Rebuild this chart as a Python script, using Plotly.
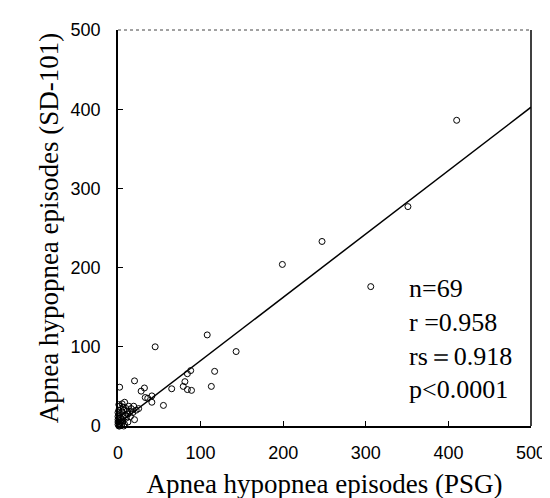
import plotly.graph_objects as go

# Data (PSG vs SD-101 apnea hypopnea episodes)
psg = [410, 351, 306, 247, 199, 143, 108, 117, 113, 88, 84, 81, 79, 84, 89, 65, 55, 45,
       41, 41, 36, 33, 32, 28, 20, 19, 22, 20, 16, 14, 12, 10, 8, 7, 6, 5, 4, 3, 2, 2,
       1, 1, 1, 0, 0, 2, 5, 7, 3, 4, 1, 6, 10, 12, 8, 0, 2, 15, 18, 25, 9, 3, 5, 0, 1,
       11, 6, 0, 13]
sd101 = [386, 277, 176, 233, 204, 94, 115, 69, 50, 70, 66, 56, 50, 46, 45, 47, 26, 100,
         38, 30, 35, 36, 48, 44, 57, 25, 20, 8, 22, 18, 15, 22, 30, 20, 12, 28, 8, 16, 49, 25,
         27, 20, 10, 5, 2, 0, 3, 0, 5, 1, 14, 6, 10, 5, 2, 8, 3, 12, 17, 22, 14, 10, 18, 12, 0,
         19, 24, 17, 25]

fit_slope = 0.80
fit_intercept = 2.5
axis_range = [0, 500]
tick_vals = [0, 100, 200, 300, 400, 500]
stats_lines = ["n=69", "r =0.958", "rs＝0.918", "p<0.0001"]

fit_x = axis_range
fit_y = [fit_intercept + fit_slope * v for v in fit_x]

fig = go.Figure()
fig.add_trace(go.Scatter(x=fit_x, y=fit_y, mode="lines",
                         line=dict(color="black", width=1.5), hoverinfo="skip"))
fig.add_trace(go.Scatter(x=psg, y=sd101, mode="markers", cliponaxis=False,
                         marker=dict(symbol="circle-open", size=6, color="black",
                                     line=dict(width=1, color="black"))))

fig.add_annotation(x=350, y=195, xref="x", yref="y", xanchor="left", yanchor="top",
                   text="<br>".join(stats_lines), showarrow=False, align="left",
                   font=dict(family="Liberation Serif", size=26, color="black"))

# right and top frame lines
fig.add_shape(type="line", xref="paper", yref="paper", x0=1, x1=1, y0=0, y1=1,
              line=dict(color="black", width=1.5))
fig.add_shape(type="line", xref="paper", yref="paper", x0=0, x1=1, y0=1, y1=1,
              line=dict(color="#444444", width=1, dash="dot"))

fig.update_layout(
    width=550, height=498,
    margin=dict(l=110, r=23, t=13, b=78),
    paper_bgcolor="white", plot_bgcolor="white",
    showlegend=False,
)
fig.update_xaxes(range=axis_range, tickvals=tick_vals, showgrid=False, zeroline=False,
                 showline=True, linecolor="black", linewidth=1.5,
                 ticks="inside", ticklen=5, tickcolor="black",
                 tickfont=dict(family="Liberation Sans", size=18, color="black"),
                 ticklabelstandoff=10,
                 title=dict(text="Apnea hypopnea episodes (PSG)", standoff=12,
                            font=dict(family="Liberation Serif", size=27, color="black")))
fig.update_yaxes(range=axis_range, tickvals=tick_vals, showgrid=False, zeroline=False,
                 showline=True, linecolor="black", linewidth=1.5,
                 ticks="inside", ticklen=5, tickcolor="black",
                 tickfont=dict(family="Liberation Sans", size=18, color="black"),
                 ticklabelstandoff=12,
                 title=dict(text="Apnea hypopnea episodes (SD-101)", standoff=4,
                            font=dict(family="Liberation Serif", size=27, color="black")))

fig.write_html("out.html")
